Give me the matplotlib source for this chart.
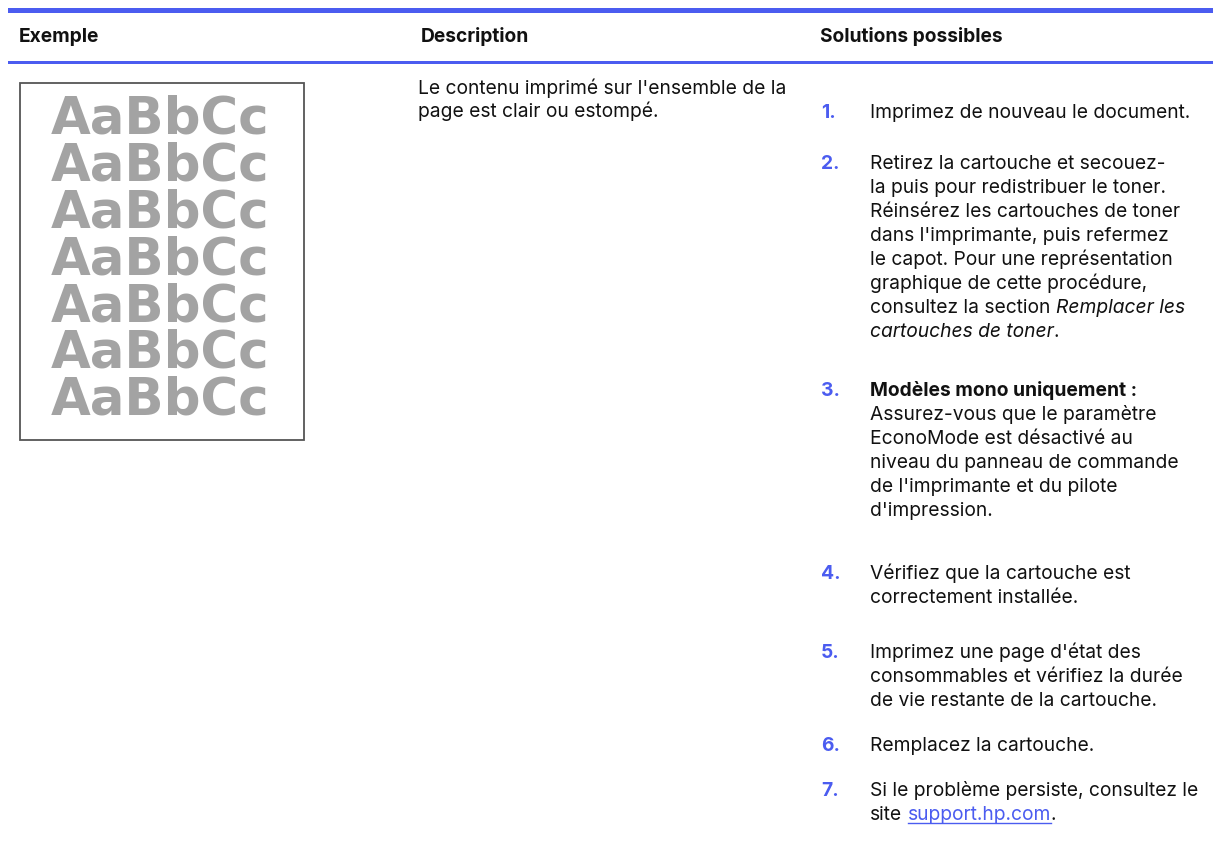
import matplotlib
matplotlib.use('Agg')
import matplotlib.pyplot as plt
from matplotlib.patches import Rectangle

W, H = 1213, 842
BLUE = '#4B5CF0'
FONT = 'Inter'
FS = 13.85         # body font size (pt)

headers = ['Exemple', 'Description', 'Solutions possibles']
sample_word = 'AaBbCc'
sample_rows = 7
description_lines = ["Le contenu imprimé sur l'ensemble de la",
                     "page est clair ou estompé."]

# each item = list of lines; each line = list of (text, style)
# style: n normal, i italic, b bold, l link. A leading space means "space before".
solutions = [
    [[("Imprimez de nouveau le document.", 'n')]],
    [[("Retirez la cartouche et secouez-", 'n')],
     [("la puis pour redistribuer le toner.", 'n')],
     [("Réinsérez les cartouches de toner", 'n')],
     [("dans l'imprimante, puis refermez", 'n')],
     [("le capot. Pour une représentation", 'n')],
     [("graphique de cette procédure,", 'n')],
     [("consultez la section", 'n'), (" Remplacer les", 'i')],
     [("cartouches de toner", 'i'), (".", 'n')]],
    [[("Modèles mono uniquement :", 'b')],
     [("Assurez-vous que le paramètre", 'n')],
     [("EconoMode est désactivé au", 'n')],
     [("niveau du panneau de commande", 'n')],
     [("de l'imprimante et du pilote", 'n')],
     [("d'impression.", 'n')]],
    [[("Vérifiez que la cartouche est", 'n')],
     [("correctement installée.", 'n')]],
    [[("Imprimez une page d'état des", 'n')],
     [("consommables et vérifiez la durée", 'n')],
     [("de vie restante de la cartouche.", 'n')]],
    [[("Remplacez la cartouche.", 'n')]],
    [[("Si le problème persiste, consultez le", 'n')],
     [("site", 'n'), (" support.hp.com", 'l'), (".", 'n')]],
]
# baseline of the first line of each step (layout, px from top)
step_top = [118, 169, 396, 579, 658, 751, 796]
LINE = 24.0

fig = plt.figure(figsize=(W / 100, H / 100), dpi=100)
ax = fig.add_axes([0, 0, 1, 1])
ax.set_xlim(0, W)
ax.set_ylim(H, 0)
ax.axis('off')

# header rules
ax.add_patch(Rectangle((8, 8), W - 8, 5, color=BLUE, lw=0))
ax.add_patch(Rectangle((8, 60.5), W - 8, 3, color=BLUE, lw=0))

# column headers
col_x = [19, 421, 820]
for x, h in zip(col_x, headers):
    ax.text(x, 42, h, fontsize=13.8, family=FONT, weight='bold',
            color='#111111', va='baseline', ha='left')

# example image box
ax.add_patch(Rectangle((20, 82.5), 284, 357, fill=False, ec='#555555', lw=1.3))
for i in range(sample_rows):
    ax.text(160, 134 + 46.8 * i, sample_word, fontsize=37,
            family='DejaVu Sans', weight='bold', color='#A3A3A3',
            va='baseline', ha='center')

# description
for i, line in enumerate(description_lines):
    ax.text(418, 94 + 23.4 * i, line, fontsize=FS, family=FONT,
            color='#111111', va='baseline', ha='left')

renderer = fig.canvas.get_renderer()

style_kw = {
    'n': dict(family=FONT, color='#111111'),
    'i': dict(family=FONT, style='italic', color='#111111'),
    'b': dict(family=FONT, weight='bold', color='#111111'),
    'l': dict(family=FONT, color=BLUE),
}

def width_of(s, kw):
    t = ax.text(0, 0, s, fontsize=FS, **kw)
    w = t.get_window_extent(renderer).width
    t.remove()
    return w

space_w = {k: width_of('x x', kw) - width_of('xx', kw) for k, kw in style_kw.items()}

num_x = 821
text_x = 870
for n, (item, y) in enumerate(zip(solutions, step_top), start=1):
    ax.text(num_x, y, f"{n}.", fontsize=FS, family=FONT, weight='bold',
            color=BLUE, va='baseline', ha='left')
    for line in item:
        x = text_x
        for seg, st in line:
            kw = style_kw[st]
            if seg.startswith(' '):
                x += space_w[st]
                seg = seg.lstrip(' ')
            t = ax.text(x, y, seg, fontsize=FS, va='baseline', ha='left', **kw)
            w = t.get_window_extent(renderer).width
            if st == 'l':
                ax.plot([x, x + w], [y + 3, y + 3], color=BLUE, lw=1.0)
            x += w
        y += LINE

fig.savefig('out.png', dpi=100, facecolor='white')
